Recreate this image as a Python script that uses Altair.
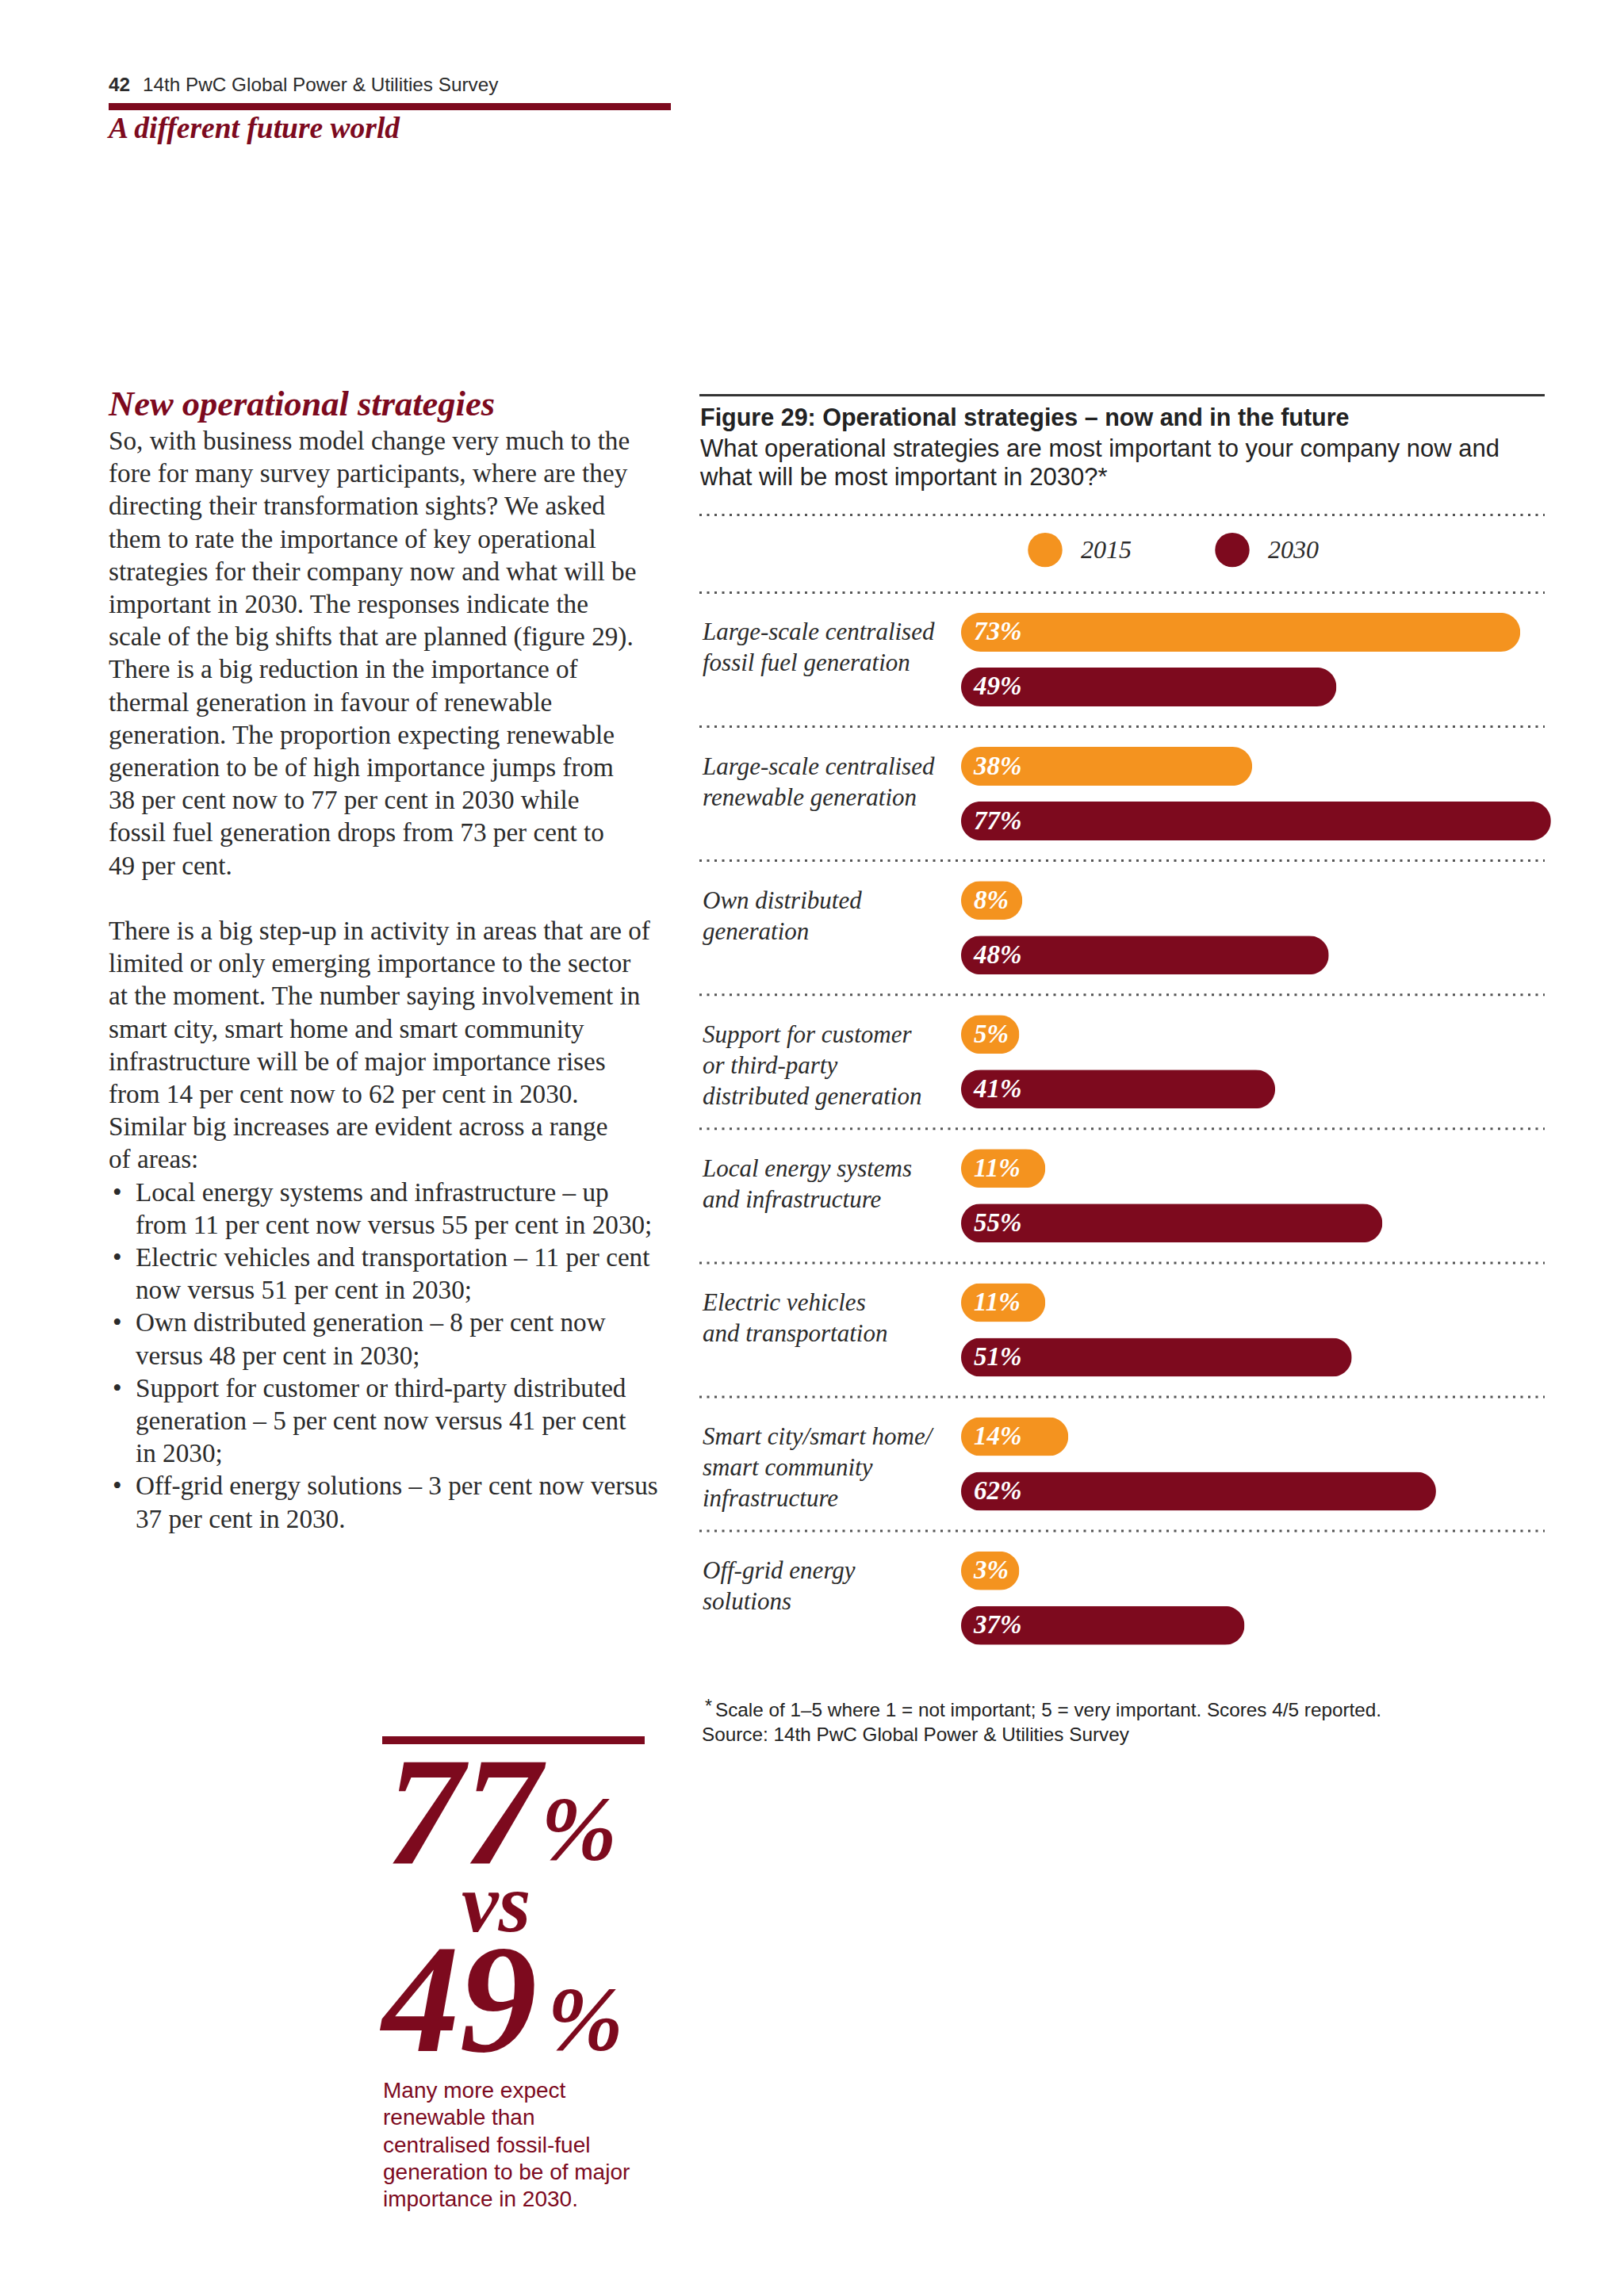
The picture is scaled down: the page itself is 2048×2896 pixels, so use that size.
import altair as alt
import pandas as pd

# ---------------- data ----------------
categories = [
    "Large-scale centralised fossil fuel generation",
    "Large-scale centralised renewable generation",
    "Own distributed generation",
    "Support for customer or third-party distributed generation",
    "Local energy systems and infrastructure",
    "Electric vehicles and transportation",
    "Smart city/smart home/smart community infrastructure",
    "Off-grid energy solutions",
]
category_labels = [
    "Large-scale centralised\nfossil fuel generation",
    "Large-scale centralised\nrenewable generation",
    "Own distributed\ngeneration",
    "Support for customer\nor third-party\ndistributed generation",
    "Local energy systems\nand infrastructure",
    "Electric vehicles\nand transportation",
    "Smart city/smart home/\nsmart community\ninfrastructure",
    "Off-grid energy\nsolutions",
]
years = ["2015", "2030"]
values_2015 = [73, 38, 8, 5, 11, 11, 14, 3]
values_2030 = [49, 77, 48, 41, 55, 51, 62, 37]

header_number = "42"
header_text = "14th PwC Global Power & Utilities Survey"
section_text = "A different future world"
heading = "New operational strategies"
paragraph_1 = [
    "So, with business model change very much to the",
    "fore for many survey participants, where are they",
    "directing their transformation sights? We asked",
    "them to rate the importance of key operational",
    "strategies for their company now and what will be",
    "important in 2030. The responses indicate the",
    "scale of the big shifts that are planned (figure 29).",
    "There is a big reduction in the importance of",
    "thermal generation in favour of renewable",
    "generation. The proportion expecting renewable",
    "generation to be of high importance jumps from",
    "38 per cent now to 77 per cent in 2030 while",
    "fossil fuel generation drops from 73 per cent to",
    "49 per cent.",
]
paragraph_2 = [
    "There is a big step-up in activity in areas that are of",
    "limited or only emerging importance to the sector",
    "at the moment. The number saying involvement in",
    "smart city, smart home and smart community",
    "infrastructure will be of major importance rises",
    "from 14 per cent now to 62 per cent in 2030.",
    "Similar big increases are evident across a range",
    "of areas:",
]
bullet_items = [
    ["Local energy systems and infrastructure \u2013 up",
     "from 11 per cent now versus 55 per cent in 2030;"],
    ["Electric vehicles and transportation \u2013 11 per cent",
     "now versus 51 per cent in 2030;"],
    ["Own distributed generation \u2013 8 per cent now",
     "versus 48 per cent in 2030;"],
    ["Support for customer or third-party distributed",
     "generation \u2013 5 per cent now versus 41 per cent",
     "in 2030;"],
    ["Off-grid energy solutions \u2013 3 per cent now versus",
     "37 per cent in 2030."],
]
fig_title = "Figure 29: Operational strategies \u2013 now and in the future"
fig_subtitle = ["What operational strategies are most important to your company now and",
                "what will be most important in 2030?*"]
footnote = "Scale of 1\u20135 where 1 = not important; 5 = very important. Scores 4/5 reported."
source = "Source: 14th PwC Global Power & Utilities Survey"
callout_top = "77"
callout_mid = "vs"
callout_bottom = "49"
callout_lines = ["Many more expect", "renewable than", "centralised fossil-fuel",
                 "generation to be of major", "importance in 2030."]

rows = []
for i, c in enumerate(categories):
    rows.append({"cat": c, "label": category_labels[i], "year": "2015", "value": values_2015[i]})
    rows.append({"cat": c, "label": category_labels[i], "year": "2030", "value": values_2030[i]})
df = pd.DataFrame(rows)

# ---------------- style ----------------
ORANGE = "#F4931F"
RED = "#7D0A1E"
TEXT = "#2B2B2B"
DOT = "#555555"
SERIF = "Liberation Serif"
SANS = "Liberation Sans"


def px(v):
    return v - 8


dummy = pd.DataFrame({"a": [1]})


def txt(s, x, y, size, font=SANS, color=TEXT, weight="normal", style="normal", lh=None, align="left"):
    m = dict(text=s, align=align, baseline="alphabetic", font=font, fontSize=size,
             fontWeight=weight, fontStyle=style, color=color)
    if lh:
        m.update(lineBreak="\n", lineHeight=lh)
    return alt.Chart(dummy).mark_text(**m).encode(x=alt.value(px(x)), y=alt.value(px(y)))


def hrule(x1, x2, y, w, color, dash=None):
    kw = dict(strokeWidth=w, color=color)
    if dash:
        kw.update(strokeDash=dash, strokeCap="butt")
    return alt.Chart(dummy).mark_rule(**kw).encode(
        x=alt.value(px(x1)), x2=alt.value(px(x2)), y=alt.value(px(y)))


BAND_TOP = 747.4
BAND = 169.1
xscale = alt.Scale(domain=[0, 80], range=[px(1212), px(1212 + 80 * 9.66)])
yscale = alt.Scale(domain=categories, range=[px(BAND_TOP), px(BAND_TOP + 8 * BAND)],
                   paddingInner=0, paddingOuter=0)
yoff = alt.Scale(domain=years, paddingInner=0, paddingOuter=0.2254)

bars = alt.Chart(df).transform_calculate(end="max(datum.value, 7.6)").mark_bar(
    height=49, cornerRadius=24.5
).encode(
    x=alt.X("end:Q", scale=xscale, axis=None),
    y=alt.Y("cat:N", scale=yscale, axis=None),
    yOffset=alt.YOffset("year:N", scale=yoff),
    color=alt.Color("year:N", scale=alt.Scale(domain=years, range=[ORANGE, RED]),
                    legend=alt.Legend(orient="none", legendX=px(1296), legendY=px(671.5),
                                      direction="horizontal", title=None, symbolType="circle",
                                      symbolSize=1886, symbolStrokeWidth=0, symbolOpacity=1,
                                      labelFont=SERIF, labelFontStyle="italic", labelFontSize=32,
                                      labelColor=TEXT, labelOffset=23, columnPadding=105,
                                      padding=0, labelLimit=300)),
)

bar_labels = alt.Chart(df).transform_calculate(lbl="datum.value + '%'").mark_text(
    align="left", baseline="middle", dx=16, font=SERIF, fontStyle="italic", fontWeight="bold",
    fontSize=33, color="white"
).encode(
    x=alt.datum(0),
    y=alt.Y("cat:N", scale=yscale, axis=None),
    yOffset=alt.YOffset("year:N", scale=yoff),
    text="lbl:N",
)

cat_labels = alt.Chart(df).transform_filter("datum.year == '2015'").mark_text(
    align="left", baseline="alphabetic", dy=10, lineBreak="\n", lineHeight=39,
    font=SERIF, fontStyle="italic", fontSize=31, color=TEXT
).encode(
    x=alt.value(px(886)),
    y=alt.Y("cat:N", scale=yscale, axis=None),
    yOffset=alt.YOffset("year:N", scale=yoff),
    text="label:N",
)

seps = alt.Chart(pd.DataFrame({"cat": categories})).mark_rule(
    strokeDash=[3, 6.5], strokeWidth=3, color=DOT, strokeCap="butt"
).encode(
    y=alt.Y("cat:N", scale=yscale, axis=None, bandPosition=0),
    x=alt.value(px(882)), x2=alt.value(px(1948)),
)

BODY_Y = 567
LH = 41.2
BODY_SIZE = 33.2
body_layers = [
    txt("\n".join(paragraph_1), 137, BODY_Y, BODY_SIZE, font=SERIF, lh=LH),
    txt("\n".join(paragraph_2), 137, BODY_Y + 15 * LH, BODY_SIZE, font=SERIF, lh=LH),
]
line_no = 23
for item in bullet_items:
    y = BODY_Y + line_no * LH
    body_layers.append(txt("\u2022", 142, y, BODY_SIZE, font=SERIF))
    body_layers.append(txt("\n".join(item), 171, y, BODY_SIZE, font=SERIF, lh=LH))
    line_no += len(item)

layers = [
    # page header
    txt(header_number, 137, 115.4, 24.3, weight="bold"),
    txt(header_text, 180, 115.4, 24.3),
    hrule(137, 846, 134.5, 9, RED),
    txt(section_text, 137, 174, 37.5, font=SERIF, color=RED, weight="bold", style="italic"),
    # left column
    txt(heading, 137, 524, 44.5, font=SERIF, color=RED, weight="bold", style="italic"),
    *body_layers,
    # callout
    hrule(482, 813, 2195, 10, RED),
    txt(callout_top, 487, 2351, 195, font=SERIF, color=RED, weight="bold", style="italic"),
    txt("%", 682, 2345, 115, font=SERIF, color=RED, weight="bold", style="italic"),
    txt(callout_mid, 582, 2436, 105, font=SERIF, color=RED, weight="bold", style="italic"),
    txt(callout_bottom, 482, 2587, 195, font=SERIF, color=RED, weight="bold", style="italic"),
    txt("%", 690, 2585, 115, font=SERIF, color=RED, weight="bold", style="italic"),
    txt("\n".join(callout_lines), 483, 2646, 28, color=RED, lh=34.3),
    # figure
    hrule(882, 1948, 498.5, 3, "#333333"),
    txt(fig_title, 883, 536.5, 30.5, weight="bold", color="#222222"),
    txt("\n".join(fig_subtitle), 883, 575.6, 31, color="#222222", lh=36),
    hrule(882, 1948, 649.5, 3, DOT, dash=[3, 6.5]),
    seps,
    bars,
    bar_labels,
    cat_labels,
    txt("*", 889, 2160, 23, color="#222222"),
    txt(footnote, 902, 2165, 24.3, color="#222222"),
    txt(source, 885, 2196, 24.3, color="#222222"),
]

chart = alt.layer(*layers).properties(
    width=2032, height=2880, background="white", padding=0,
    autosize=alt.AutoSizeParams(type="none"),
).configure_view(stroke=None)

chart.save("out.html", embed_options={"renderer": "svg", "actions": False})
